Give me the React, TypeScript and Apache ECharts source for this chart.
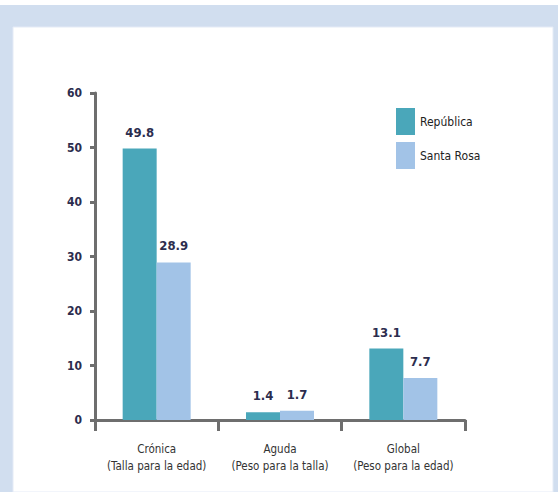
import React, { useEffect, useRef } from "react";
import * as echarts from "echarts";

const categories = ["Crónica\n(Talla para la edad)", "Aguda\n(Peso para la talla)", "Global\n(Peso para la edad)"];
const seriesNames = ["República", "Santa Rosa"];
const republica = [49.8, 1.4, 13.1];
const santaRosa = [28.9, 1.7, 7.7];
const yTicks = { min: 0, max: 60, interval: 10 };

const FONT = "'DejaVu Sans Condensed', 'Liberation Sans Narrow', sans-serif";

export default function App() {
  const ref = useRef<HTMLDivElement>(null);
  useEffect(() => {
    if (!ref.current) return;
    const chart = echarts.init(ref.current, null, { renderer: "svg" });
    const labelStyle = {
      show: true,
      position: "top",
      distance: 10,
      fontFamily: FONT,
      fontSize: 13,
      fontWeight: "bold",
      color: "#2c2d4e",
    };
    chart.setOption({
      animation: false,
      backgroundColor: "#ffffff",
      graphic: [
        { type: "rect", shape: { x: 0, y: 5, width: 558, height: 487 }, style: { fill: "#d1deef" }, z: -10, silent: true },
        { type: "rect", shape: { x: 13, y: 27, width: 540, height: 465 }, style: { fill: "#ffffff", stroke: "#e4ebf6", lineWidth: 1 }, z: -9, silent: true },
      ],
      textStyle: { fontFamily: FONT },
      legend: {
        orient: "vertical",
        left: 396,
        top: 108,
        padding: 0,
        itemWidth: 19,
        itemHeight: 27,
        itemGap: 7,
        icon: "rect",
        data: seriesNames,
        textStyle: { fontFamily: FONT, fontSize: 12, color: "#222222" },
      },
      grid: { left: 95, right: 93, top: 93, bottom: 72, containLabel: false },
      xAxis: {
        type: "category",
        data: categories,
        axisLine: { show: true, lineStyle: { color: "#6e6e6e", width: 3 } },
        axisTick: { show: true, length: 11, lineStyle: { color: "#6e6e6e", width: 3 } },
        axisLabel: {
          fontFamily: FONT,
          fontSize: 11.5,
          color: "#333333",
          margin: 20,
          lineHeight: 17,
          interval: 0,
        },
      },
      yAxis: {
        type: "value",
        min: yTicks.min,
        max: yTicks.max,
        interval: yTicks.interval,
        splitLine: { show: false },
        axisLine: { show: true, lineStyle: { color: "#6e6e6e", width: 3 } },
        axisTick: { show: true, length: 5, lineStyle: { color: "#6e6e6e", width: 3 } },
        axisLabel: {
          fontFamily: FONT,
          fontSize: 12,
          fontWeight: "bold",
          color: "#2c2d4e",
          margin: 13,
        },
      },
      series: [
        {
          name: seriesNames[0],
          type: "bar",
          data: republica,
          barWidth: 34,
          barGap: "0%",
          itemStyle: { color: "#4aa7ba" },
          label: labelStyle,
        },
        {
          name: seriesNames[1],
          type: "bar",
          data: santaRosa,
          barWidth: 34,
          barGap: "0%",
          itemStyle: { color: "#a2c3e7" },
          label: labelStyle,
        },
      ],
    });
    return () => chart.dispose();
  }, []);
  return (
    <div
      ref={ref}
      style={{ position: "fixed", left: 0, top: 0, width: 558, height: 492 }}
    />
  );
}
